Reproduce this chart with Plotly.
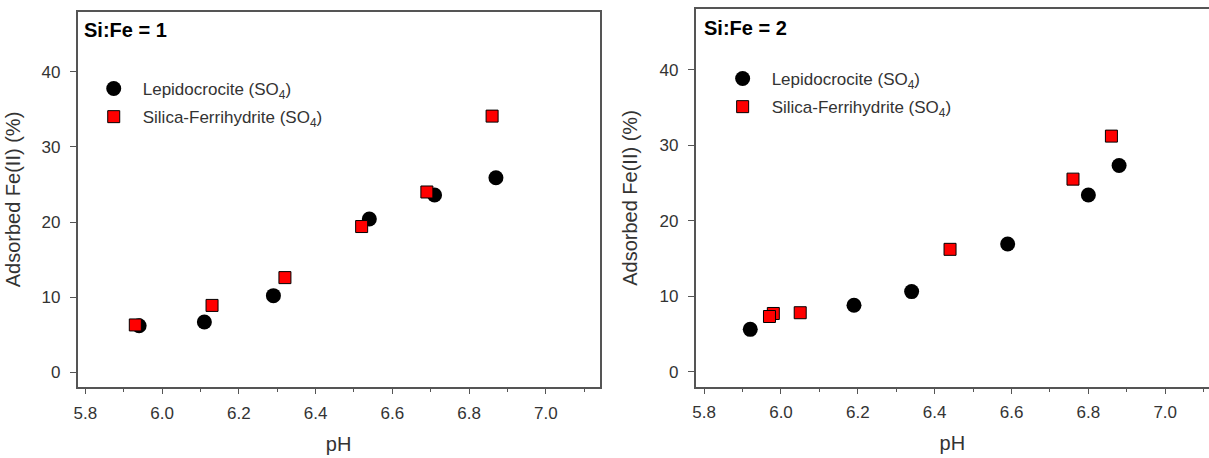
import plotly.graph_objects as go

# ---- data ----
ph_lepi_1 = [5.94, 6.11, 6.29, 6.54, 6.71, 6.87]
ads_lepi_1 = [6.2, 6.7, 10.2, 20.4, 23.6, 25.9]
ph_sfh_1 = [5.93, 6.13, 6.32, 6.52, 6.69, 6.86]
ads_sfh_1 = [6.3, 8.9, 12.6, 19.4, 24.0, 34.1]

ph_lepi_2 = [5.92, 6.19, 6.34, 6.59, 6.80, 6.88]
ads_lepi_2 = [5.6, 8.8, 10.6, 16.9, 23.4, 27.3]
ph_sfh_2 = [5.98, 5.97, 6.05, 6.44, 6.76, 6.86]
ads_sfh_2 = [7.7, 7.3, 7.8, 16.2, 25.5, 31.2]

x_ticks = [5.8, 6.0, 6.2, 6.4, 6.6, 6.8, 7.0]
x_tick_labels = ["5.8", "6.0", "6.2", "6.4", "6.6", "6.8", "7.0"]
y_ticks = [0, 10, 20, 30, 40]
panel_titles = ["Si:Fe = 1", "Si:Fe = 2"]
series_names = ["Lepidocrocite (SO<sub>4</sub>)", "Silica-Ferrihydrite (SO<sub>4</sub>)"]
x_title = "pH"
y_title = "Adsorbed Fe(II) (%)"

W, H = 1209, 458
FONT = "Arial, Liberation Sans, sans-serif"
LINE = "#555555"
TXT = "#333333"

fig = go.Figure()

circle_style = dict(symbol="circle", size=15, color="black", line=dict(width=0))
square_style = dict(symbol="square", size=12, color="#ff0000", line=dict(width=1, color="black"))

fig.add_trace(go.Scatter(x=ph_lepi_1, y=ads_lepi_1, mode="markers", name=series_names[0],
                         marker=circle_style, xaxis="x", yaxis="y", legend="legend",
                         legendgroup="a"))
fig.add_trace(go.Scatter(x=ph_sfh_1, y=ads_sfh_1, mode="markers", name=series_names[1],
                         marker=square_style, xaxis="x", yaxis="y", legend="legend",
                         legendgroup="b"))
fig.add_trace(go.Scatter(x=ph_lepi_2, y=ads_lepi_2, mode="markers", name=series_names[0],
                         marker=circle_style, xaxis="x2", yaxis="y2", legend="legend2",
                         legendgroup="c"))
fig.add_trace(go.Scatter(x=ph_sfh_2, y=ads_sfh_2, mode="markers", name=series_names[1],
                         marker=square_style, xaxis="x2", yaxis="y2", legend="legend2",
                         legendgroup="d"))

def px_x(p):
    return p / W

def px_y(p):
    return 1 - p / H

xaxis_common = dict(
    tickmode="array", tickvals=x_ticks, ticktext=x_tick_labels,
    ticks="outside", ticklen=5, tickwidth=1.3, tickcolor=LINE,
    showline=True, linecolor=LINE, linewidth=1.8, mirror=True,
    showgrid=False, zeroline=False,
    tickfont=dict(family=FONT, size=17, color=TXT),
    minor=dict(ticks="outside", ticklen=3, tickwidth=1.3, tickcolor=LINE, dtick=0.1, showgrid=False),
    ticklabelstandoff=4,
    title=dict(text=x_title, font=dict(family=FONT, size=20, color=TXT), standoff=15),
)
yaxis_common = dict(
    tickmode="array", tickvals=y_ticks,
    ticks="outside", ticklen=6, tickwidth=1.3, tickcolor=LINE,
    showline=True, linecolor=LINE, linewidth=1.8,
    showgrid=False, zeroline=False, range=[-2, 48],
    tickfont=dict(family=FONT, size=17, color=TXT),
    ticklabelstandoff=6,
    title=dict(text=y_title, font=dict(family=FONT, size=20, color=TXT), standoff=16),
)

legend_common = dict(xanchor="left", yanchor="top", bgcolor="rgba(0,0,0,0)",
                     font=dict(family=FONT, size=17, color=TXT),
                     traceorder="grouped", tracegroupgap=3, itemwidth=48)

fig.update_layout(
    width=W, height=H,
    margin=dict(l=0, r=0, t=0, b=0),
    paper_bgcolor="white", plot_bgcolor="white",
    font=dict(family=FONT, color=TXT),
    xaxis=dict(xaxis_common, domain=[px_x(74), px_x(597.5)], range=[5.78, 7.14], anchor="y"),
    yaxis=dict(yaxis_common, domain=[px_y(387.3), px_y(11.7)], anchor="x", mirror=True),
    xaxis2=dict(xaxis_common, domain=[px_x(694), 1.0], range=[5.778, 7.114], anchor="y2"),
    yaxis2=dict(yaxis_common, domain=[px_y(386.7), px_y(9.3)], anchor="x2", mirror=False),
    legend=dict(legend_common, x=px_x(81), y=px_y(71)),
    legend2=dict(legend_common, x=px_x(712), y=px_y(61)),
    showlegend=True,
)

fig.add_annotation(text="<b>" + panel_titles[0] + "</b>", xref="paper", yref="paper",
                   x=px_x(78), y=px_y(30), xanchor="left", yanchor="middle", showarrow=False,
                   font=dict(family=FONT, size=20, color="black"))
fig.add_annotation(text="<b>" + panel_titles[1] + "</b>", xref="paper", yref="paper",
                   x=px_x(700), y=px_y(28), xanchor="left", yanchor="middle", showarrow=False,
                   font=dict(family=FONT, size=20, color="black"))

fig.write_html("out.html", config={"displayModeBar": False},
               post_script="document.body.style.margin='0px';document.body.style.overflow='hidden';")
